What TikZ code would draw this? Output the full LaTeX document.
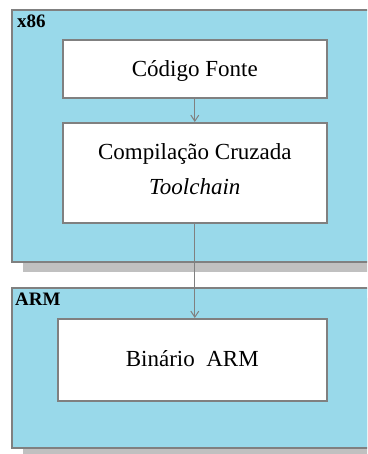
\documentclass[tikz,border=0pt]{standalone}
\usepackage{fontspec}
\setmainfont{Liberation Serif}
\usetikzlibrary{arrows.meta}
\definecolor{panelblue}{RGB}{153,217,234}
\definecolor{edgegray}{RGB}{128,128,128}
\definecolor{shadowgray}{RGB}{192,192,192}
\tikzset{
  panel/.style={draw=edgegray, line width=1.8pt, fill=panelblue},
  panelshadow/.style={fill=shadowgray, draw=none},
  stepbox/.style={draw=edgegray, line width=1.6pt, fill=white},
  tag/.style={font=\bfseries\fontsize{19}{21}\selectfont, anchor=base west, inner sep=0pt},
  lbl/.style={font=\fontsize{23}{26}\selectfont, inner sep=0pt},
  flow/.style={draw=edgegray, line width=1.2pt, -{Straight Barb[length=6pt,width=8pt,line width=1pt]}}
}
\begin{document}
\begin{tikzpicture}[x=1pt,y=-1pt]
\useasboundingbox (0,0) rectangle (367,454);
\clip (0,0) rectangle (367,454);
% host panel
\fill[panelshadow] (23,20) rectangle (420,272);
\filldraw[panel] (12,10) rectangle (420,262);
\node[tag] (x86) at (17,28) {x86};
% target panel
\fill[panelshadow] (23,298) rectangle (420,470);
\filldraw[panel] (12,288) rectangle (420,448);
\node[tag] (arm) at (15,305) {ARM};
% steps
\node[stepbox, minimum width=264pt, minimum height=58pt, anchor=north west] (src) at (62,39) {};
\node[lbl] at ([yshift=-2pt]src.center) {Código Fonte};
\node[stepbox, minimum width=264pt, minimum height=100pt, anchor=north west] (cc) at (62,122) {};
\node[lbl] at ([yshift=19pt]cc.center) {Compilação Cruzada};
\node[lbl, font=\itshape\fontsize{23}{26}\selectfont] at ([yshift=-14pt]cc.center) {Toolchain};
\node[stepbox, minimum width=269pt, minimum height=82pt, anchor=north west] (bin) at (57,318) {};
\node[lbl] at ([yshift=1pt]bin.center) {Binário\ \ ARM};
% connectors
\draw[flow] (src.south) -- (cc.north);
\draw[flow] (cc.south) -- (cc.south |- bin.north);
\end{tikzpicture}
\end{document}
